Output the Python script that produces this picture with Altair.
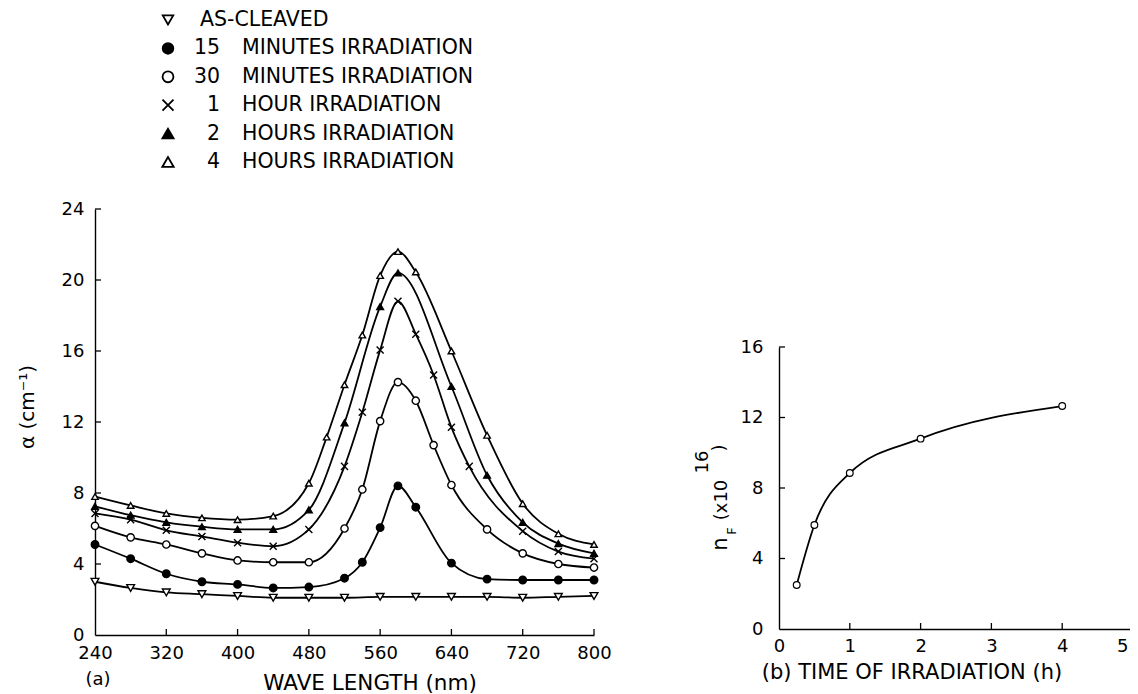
import altair as alt
import pandas as pd

# ---------------- data ----------------
series = ["AS-CLEAVED", "15 MINUTES", "30 MINUTES", "1 HOUR", "2 HOURS", "4 HOURS"]
leg_num = ["", "15", "30", "1", "2", "4"]
leg_txt = ["AS-CLEAVED", "MINUTES IRRADIATION", "MINUTES IRRADIATION",
           "HOUR IRRADIATION", "HOURS IRRADIATION", "HOURS IRRADIATION"]

wl_ac = [240, 280, 320, 360, 400, 440, 480, 520, 560, 600, 640, 680, 720, 760, 800]
a_ac = [3.0, 2.65, 2.4, 2.3, 2.2, 2.1, 2.1, 2.1, 2.15, 2.15, 2.15, 2.15, 2.1, 2.15, 2.2]

wl_15 = [240, 280, 320, 360, 400, 440, 480, 520, 540, 560, 580, 600, 640, 680, 720, 760, 800]
a_15 = [5.1, 4.3, 3.45, 3.0, 2.85, 2.65, 2.7, 3.2, 4.1, 6.05, 8.4, 7.2, 4.05, 3.15, 3.1, 3.1, 3.1]

wl_30 = [240, 280, 320, 360, 400, 440, 480, 520, 540, 560, 580, 600, 620, 640, 680, 720, 760, 800]
a_30 = [6.15, 5.5, 5.1, 4.6, 4.2, 4.1, 4.1, 6.0, 8.2, 12.05, 14.25, 13.2, 10.7, 8.45, 5.95, 4.6, 4.0, 3.8]

wl_1h = [240, 280, 320, 360, 400, 440, 480, 520, 540, 560, 580, 600, 620, 640, 660, 720, 760, 800]
a_1h = [6.85, 6.5, 5.9, 5.55, 5.2, 5.0, 5.95, 9.5, 12.55, 16.05, 18.8, 16.95, 14.65, 11.7, 9.5, 5.85, 4.7, 4.3]

wl_2h = [240, 280, 320, 360, 400, 440, 480, 520, 560, 580, 640, 680, 720, 760, 800]
a_2h = [7.25, 6.75, 6.35, 6.1, 5.95, 5.95, 7.05, 11.95, 18.5, 20.4, 14.0, 9.0, 6.35, 5.15, 4.6]

wl_4h = [240, 280, 320, 360, 400, 440, 480, 500, 520, 540, 560, 580, 600, 640, 680, 720, 760, 800]
a_4h = [7.8, 7.3, 6.85, 6.6, 6.5, 6.7, 8.55, 11.15, 14.1, 16.9, 20.25, 21.6, 20.45, 16.0, 11.25, 7.4, 5.7, 5.1]

t_h = [0.25, 0.5, 1, 2, 4]
n_f = [2.5, 5.9, 8.85, 10.8, 12.65]

xl_ticks = [240, 320, 400, 480, 560, 640, 720, 800]
yl_ticks = [0, 4, 8, 12, 16, 20, 24]
xr_ticks = [0, 1, 2, 3, 4, 5]
yr_ticks = [0, 4, 8, 12, 16]

# ---------------- layout / style ----------------
W, H = 1122, 686
LX = [87, 586]
LY = [627, 201]
RX = [771, 1125]
RY = [621, 339]
FONT = "DejaVu Sans"
X_PATH = "M-1,-1L1,1M-1,1L1,-1"
shapes = ["triangle-down", "circle", "circle", X_PATH, "triangle-up", "triangle-up"]
fills = ["white", "black", "white", "white", "black", "white"]
msizes = [60, 42, 34, 64, 70, 70]
lsizes = [110, 130, 45, 80, 110, 60]
TICK = 6

rows = []
for name, wl, a in zip(series, [wl_ac, wl_15, wl_30, wl_1h, wl_2h, wl_4h],
                       [a_ac, a_15, a_30, a_1h, a_2h, a_4h]):
    for x, y in zip(wl, a):
        rows.append({"series": name, "wl": x, "alpha": y})
df_left = pd.DataFrame(rows)
df_right = pd.DataFrame({"t": t_h, "n": n_f})
df_leg = pd.DataFrame({"series": series, "num": leg_num, "txt": leg_txt,
                       "row": list(range(len(series)))})


def axis(orient, values, offset, pad, **extra):
    return alt.Axis(orient=orient, values=values, offset=offset, labelPadding=pad,
                    ticks=False, tickSize=0, grid=False, title=None, format="d",
                    domainColor="black", domainWidth=1.4, labelColor="black",
                    labelFont=FONT, labelFontSize=18, labelFlush=False,
                    labelOverlap=False, **extra)


sxl = alt.Scale(domain=[240, 800], range=LX, nice=False, zero=False)
syl = alt.Scale(domain=[0, 24], range=LY, nice=False, zero=False)
sxr = alt.Scale(domain=[0, 5], range=RX, nice=False, zero=False)
syr = alt.Scale(domain=[0, 16], range=RY, nice=False, zero=False)

shape_sc = alt.Scale(domain=series, range=shapes)
fill_sc = alt.Scale(domain=series, range=fills)

# ---------------- left panel ----------------
base_l = alt.Chart(df_left)
l_lines = base_l.mark_line(interpolate="monotone", color="black", strokeWidth=1.8).encode(
    x=alt.X("wl:Q", scale=sxl, axis=axis("bottom", xl_ticks, -(H - LY[0]), 9)),
    y=alt.Y("alpha:Q", scale=syl, axis=axis("left", yl_ticks, -LX[0], 11)),
    detail="series:N",
)
l_pts = base_l.mark_point(filled=True, stroke="black", strokeWidth=1.4, opacity=1).encode(
    x=alt.X("wl:Q", scale=sxl),
    y=alt.Y("alpha:Q", scale=syl),
    shape=alt.Shape("series:N", scale=shape_sc, legend=None),
    fill=alt.Fill("series:N", scale=fill_sc, legend=None),
    size=alt.Size("series:N", scale=alt.Scale(domain=series, range=msizes), legend=None),
)
l_xt = alt.Chart(pd.DataFrame({"v": xl_ticks[1:]})).mark_rule(color="black", strokeWidth=1.3).encode(
    x=alt.X("v:Q", scale=sxl), y=alt.value(LY[0]), y2=alt.value(LY[0] - TICK))
l_yt = alt.Chart(pd.DataFrame({"v": yl_ticks[1:]})).mark_rule(color="black", strokeWidth=1.3).encode(
    y=alt.Y("v:Q", scale=syl), x=alt.value(LX[0]), x2=alt.value(LX[0] + TICK))
left = alt.layer(l_lines, l_pts, l_xt, l_yt)

# ---------------- right panel ----------------
base_r = alt.Chart(df_right)
r_line = base_r.mark_line(interpolate="monotone", color="black", strokeWidth=1.8).encode(
    x=alt.X("t:Q", scale=sxr, axis=axis(
        "bottom", xr_ticks, -(H - RY[0]), 8,
        labelAlign={"condition": {"test": "datum.value == 5", "value": "right"}, "value": "center"},
        labelOffset={"condition": {"test": "datum.value == 5", "value": -5}, "value": 0})),
    y=alt.Y("n:Q", scale=syr, axis=axis("left", yr_ticks, -RX[0], 16)),
)
r_pts = base_r.mark_point(shape="circle", filled=True, fill="white", stroke="black",
                          strokeWidth=1.2, size=45, opacity=1).encode(
    x=alt.X("t:Q", scale=sxr), y=alt.Y("n:Q", scale=syr))
r_xt = alt.Chart(pd.DataFrame({"v": xr_ticks[1:]})).mark_rule(color="black", strokeWidth=1.3).encode(
    x=alt.X("v:Q", scale=sxr), y=alt.value(RY[0]), y2=alt.value(RY[0] - TICK))
r_yt = alt.Chart(pd.DataFrame({"v": yr_ticks[1:]})).mark_rule(color="black", strokeWidth=1.3).encode(
    y=alt.Y("v:Q", scale=syr), x=alt.value(RX[0]), x2=alt.value(RX[0] + TICK))
right = alt.layer(r_line, r_pts, r_xt, r_yt)

# ---------------- legend ----------------
srow = alt.Scale(domain=[0, 5], range=[12, 154])
base_g = alt.Chart(df_leg)
g_sym = base_g.mark_point(filled=True, stroke="black", strokeWidth=1.8, opacity=1).encode(
    x=alt.value(160),
    y=alt.Y("row:Q", scale=srow, axis=None),
    shape=alt.Shape("series:N", scale=shape_sc, legend=None),
    fill=alt.Fill("series:N", scale=fill_sc, legend=None),
    size=alt.Size("series:N", scale=alt.Scale(domain=series, range=lsizes), legend=None),
)
g_num = base_g.transform_filter("datum.row > 0").mark_text(
    align="right", baseline="middle", font=FONT, fontSize=20.5, color="black").encode(
    x=alt.value(212), y=alt.Y("row:Q", scale=srow, axis=None), text="num:N")
g_txt = base_g.transform_filter("datum.row > 0").mark_text(
    align="left", baseline="middle", font=FONT, fontSize=20.5, color="black").encode(
    x=alt.value(234), y=alt.Y("row:Q", scale=srow, axis=None), text="txt:N")
g_txt0 = base_g.transform_filter("datum.row == 0").mark_text(
    align="left", baseline="middle", font=FONT, fontSize=20.5, color="black").encode(
    x=alt.value(192), y=alt.Y("row:Q", scale=srow, axis=None), text="txt:N")
legend = alt.layer(g_sym, g_num, g_txt, g_txt0)

# ---------------- titles ----------------
dummy = pd.DataFrame({"d": [0]})


def label(text, x, y, size=20, angle=0, align="center"):
    kw = dict(text=text, font=FONT, fontSize=size, color="black", align=align, baseline="middle")
    if angle:
        kw["angle"] = angle
    return alt.Chart(dummy).mark_text(**kw).encode(x=alt.value(x), y=alt.value(y))


titles = [
    label("WAVE LENGTH (nm)", 362, 676, 21.5),
    label("(a)", 90, 672, 18),
    label("α (cm⁻¹)", 20, 399, 20, 270),
    label("(b) TIME OF IRRADIATION (h)", 904, 665, 21),
    label("n", 713, 536, 21, 270),
    label("F", 724, 523, 13, 270),
    label("(x10", 714, 492, 18, 270),
    label("16", 695, 454, 18, 270),
    label(")", 712, 440, 18, 270),
]

chart = alt.layer(left, right, legend, *titles).resolve_scale(
    x="independent", y="independent", shape="independent", fill="independent", size="independent"
).resolve_axis(x="independent", y="independent").properties(
    width=W, height=H, autosize=alt.AutoSizeParams(type="none"), padding=0
).configure_view(stroke=None)

chart.save("out.html", embed_options={"renderer": "svg", "actions": False})
